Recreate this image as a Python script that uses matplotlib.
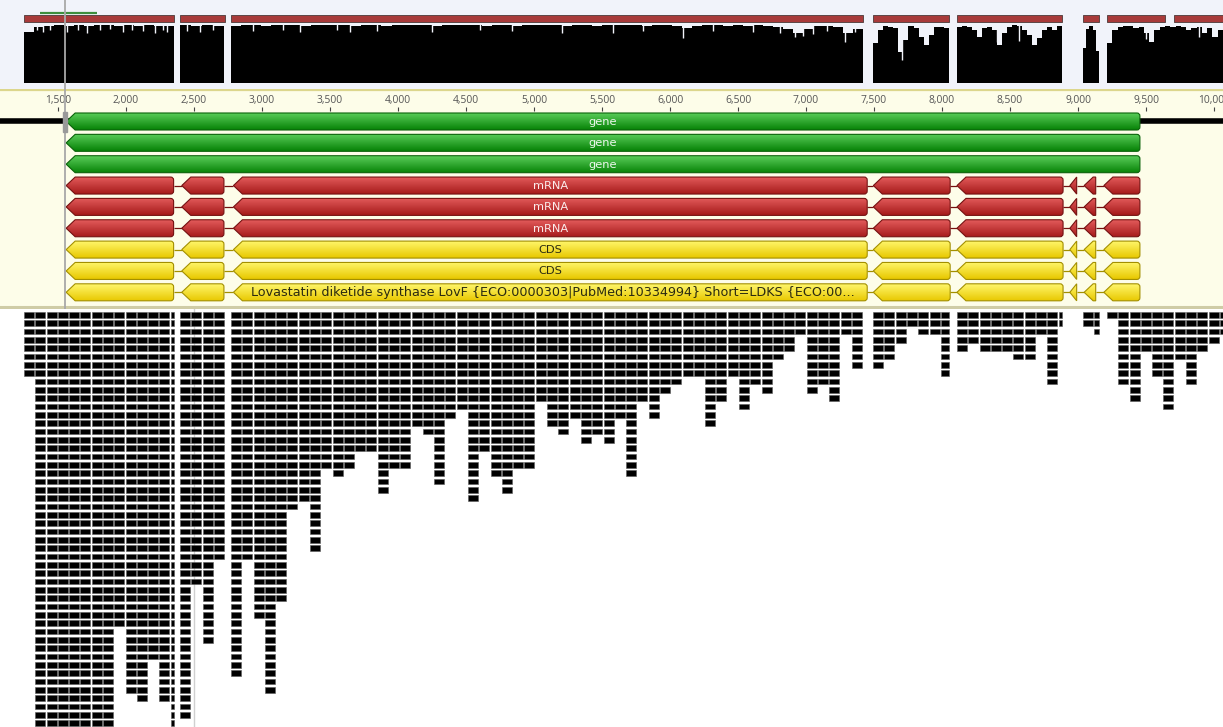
import numpy as np
import matplotlib.pyplot as plt
from matplotlib.path import Path
from matplotlib.patches import PathPatch, Rectangle
from matplotlib.colors import LinearSegmentedColormap

plt.rcParams['font.family'] = ['Open Sans', 'DejaVu Sans']

W, H = 1223, 727
PX_PER_BP = 0.136
X_LEFT, X_RIGHT = 1073.5, 10066

# ruler
ruler_ticks = list(range(1500, 10001, 500))
cursor_bp = 1551
reads_marker_bp = 2500

# annotation (minus strand, exons in bp)
gene_span = (1560, 9455)
exons = [(1560, 2350), (2410, 2720), (2790, 7450), (7495, 8060),
         (8110, 8890), (8940, 8990), (9045, 9130), (9190, 9455)]
track_kinds = ['gene', 'gene', 'gene', 'mRNA', 'mRNA', 'mRNA', 'CDS', 'CDS', 'CDS']
track_labels = ['gene', 'gene', 'gene', 'mRNA', 'mRNA', 'mRNA', 'CDS', 'CDS',
                'Lovastatin diketide synthase LovF {ECO:0000303|PubMed:10334994} '
                'Short=LDKS {ECO:00...']

# coverage, one list of relative depths per covered block
cov_blocks = [(1250, 2353), (2397, 2721), (2772, 7419), (7493, 8051),
              (8110, 8882), (9037, 9154), (9213, 10066)]
cov_values = [
    [0.86, 0.95, 0.97, 0.98, 0.97, 0.98, 0.97, 0.98, 0.98, 0.97, 0.98, 0.97, 0.98, 0.97, 0.97],
    [0.98, 0.97, 0.98, 0.97],
    [0.97, 0.98, 0.98, 0.97, 0.98, 0.98, 0.98, 0.97, 0.98, 0.98,
     0.98, 0.98, 0.97, 0.98, 0.98, 0.97, 0.98, 0.98, 0.98, 0.98,
     0.97, 0.98, 0.98, 0.98, 0.98, 0.97, 0.98, 0.98, 0.97, 0.98,
     0.98, 0.98, 0.98, 0.97, 0.98, 0.98, 0.97, 0.98, 0.98, 0.98,
     0.98, 0.97, 0.98, 0.98, 0.97, 0.93, 0.97, 0.98, 0.98, 0.97,
     0.98, 0.97, 0.98, 0.96, 0.95, 0.92, 0.84, 0.92, 0.96, 0.97,
     0.95, 0.84, 0.92],
    [0.68, 0.90, 0.97, 0.95, 0.93, 0.53, 0.73, 0.97, 0.93, 0.78, 0.64, 0.81, 0.95, 0.95, 0.93],
    [0.95, 0.96, 0.95, 0.90, 0.78, 0.93, 0.95, 0.90, 0.64, 0.85, 0.95,
     0.98, 0.96, 0.90, 0.81, 0.64, 0.76, 0.90, 0.95, 0.90, 0.96],
    [0.60, 0.92, 0.97, 0.90, 0.55],
    [0.68, 0.90, 0.95, 0.96, 0.96, 0.93, 0.95, 0.85, 0.70, 0.90, 0.95, 0.96,
     0.95, 0.96, 0.95, 0.90, 0.93, 0.95, 0.85, 0.93, 0.78, 0.90],
]
# narrow coverage drops
spike_bp = [1309, 1346, 1390, 1441, 1566, 1647, 1713, 1809, 1882, 1978, 2044, 2125, 2213, 2272, 2301,
            2449, 2544, 2640,
            2934, 3154, 3279, 3551, 3647, 3846, 4250, 4603, 4838, 5206, 5581, 5801, 6096, 6316,
            6610, 6809, 6919, 6978, 7051, 7154, 7287, 7360,
            7706, 8404, 8566, 9500, 9890]
spike_val = [0.88, 0.90, 0.86, 0.90, 0.87, 0.90, 0.84, 0.89, 0.91, 0.86, 0.90, 0.88, 0.85, 0.90, 0.87,
             0.88, 0.86, 0.90,
             0.88, 0.90, 0.86, 0.90, 0.87, 0.88, 0.86, 0.90, 0.88, 0.85, 0.84, 0.88, 0.76, 0.88,
             0.87, 0.84, 0.78, 0.80, 0.83, 0.88, 0.70, 0.86,
             0.39, 0.70, 0.72, 0.75, 0.78]
mapped_ranges = [(1250, 2353), (2397, 2728), (2772, 7419), (7493, 8051),
                 (8110, 8882), (9037, 9154), (9213, 9640), (9706, 10066)]
consensus_range = (1368, 1787)

# read stacks: depth of each column of reads inside every covered block
read_len = 73.5
read_pitch = 83
read_blocks = [(1250, 2353), (2397, 2721), (2772, 7419), (7493, 8051),
               (8110, 8882), (9037, 9154), (9213, 10066)]
read_depths = [
    [8, 50, 50, 50, 50, 50, 50, 50, 38, 46, 47, 42, 47, 50],
    [49, 33, 40, 30],
    [44, 30, 37, 46, 35, 24, 23, 29, 19, 20, 19, 17, 17, 22, 19, 19, 14, 15, 21, 13,
     12, 23, 17, 20, 22, 19, 19, 11, 14, 15, 13, 16, 15, 16, 13, 20, 11, 13, 10, 9,
     8, 8, 14, 11, 8, 12, 9, 10, 6, 5, 3, 10, 9, 11, 3, 7],
    [7, 6, 4, 2, 3, 3, 8],
    [5, 4, 5, 5, 5, 6, 6, 3, 9, 2],
    [2, 3],
    [1, 9, 11, 5, 8, 12, 6, 9, 5, 4, 3],
]

styles = {
    'gene': dict(top='#58cc58', bottom='#078207', edge='#0a620a', text='#eef8ee'),
    'mRNA': dict(top='#e25a5a', bottom='#a61b1b', edge='#741111', text='#fbecec'),
    'CDS': dict(top='#fff66a', bottom='#e8c800', edge='#a38f00', text='#2a2a10'),
}

fig = plt.figure(figsize=(W / 100, H / 100), dpi=100)


def pane(y_top, y_bot):
    ax = fig.add_axes([0, 1 - y_bot / H, 1, (y_bot - y_top) / H])
    ax.set_xlim(X_LEFT, X_RIGHT)
    ax.axis('off')
    return ax


px = 1 / PX_PER_BP  # bp per screen pixel

# ---- coverage graph ----
ax_cov = pane(0, 89)
ax_cov.set_ylim(-6 / 59, 83 / 59)
ax_cov.add_patch(Rectangle((0, 0), 1, 1, transform=ax_cov.transAxes, color='#f1f3fa', zorder=0))
for (b0, b1), vals in zip(cov_blocks, cov_values):
    edges = np.linspace(b0, b1, len(vals) + 1)
    ax_cov.stairs(vals, edges, baseline=0, fill=True, color='black', zorder=2)
ax_cov.vlines(spike_bp, spike_val, 1.0, color='#f1f3fa', lw=1.0, zorder=3)
for r0, r1 in mapped_ranges:
    ax_cov.add_patch(Rectangle((r0, 1.034), r1 - r0, 0.119, facecolor='#a83a3a',
                               edgecolor='#5c4646', lw=0.7, zorder=3))
ax_cov.hlines(1.18, *consensus_range, color='#3d8f3d', lw=1.6, zorder=3)
ax_cov.axvline(cursor_bp, color='#a8a8a8', lw=1.3, zorder=5)

# ---- ruler and annotation tracks ----
ax_trk = pane(89, 309)
ax_trk.set_ylim(309, 89)
ax_trk.add_patch(Rectangle((0, 0), 1, 1, transform=ax_trk.transAxes, color='#fdfde9', zorder=0))
ax_trk.axhline(89.8, color='#dcd68c', lw=1.6, zorder=1)
ax_trk.axhline(307, color='#cfcca6', lw=2.2, zorder=1)
for t in ruler_ticks:
    ax_trk.text(t, 101, f'{t:,}', ha='center', va='center', fontsize=7.4, color='#555555')
ax_trk.vlines(ruler_ticks, 107, 111, color='#444444', lw=0.8)

# reference line and cursor
ax_trk.hlines(121, X_LEFT, X_RIGHT, color='black', lw=4, zorder=1)
ax_trk.axvline(cursor_bp, color='#a8a8a8', lw=1.3, zorder=6)
ax_trk.add_patch(Rectangle((cursor_bp - 2 * px, 112), 4 * px, 20, color='#9a9a9a', zorder=6))

row_h = 17
tip_len = 9 * px
corner_x, corner_y = 3 * px, 3


def feature_patch(x0, x1, yc, edge):
    top, bot = yc - row_h / 2, yc + row_h / 2
    tip = min(tip_len, x1 - x0)
    verts = [(x0, yc), (x0 + tip, top)]
    codes = [Path.MOVETO, Path.LINETO]
    if x1 - (x0 + tip) > corner_x:
        verts += [(x1 - corner_x, top), (x1, top), (x1, top + corner_y),
                  (x1, bot - corner_y), (x1, bot), (x1 - corner_x, bot)]
        codes += [Path.LINETO, Path.CURVE3, Path.CURVE3, Path.LINETO, Path.CURVE3, Path.CURVE3]
    else:
        verts += [(x1, top), (x1, bot)]
        codes += [Path.LINETO, Path.LINETO]
    verts += [(x0 + tip, bot), (x0, yc)]
    codes += [Path.LINETO, Path.CLOSEPOLY]
    return PathPatch(Path(verts, codes), facecolor='none', edgecolor=edge, lw=0.8, zorder=4)


label_font = dict(family=['DejaVu Sans'], va='center', zorder=7)
grad = np.linspace(0, 1, 40).reshape(-1, 1)
for i, (kind, label) in enumerate(zip(track_kinds, track_labels)):
    st = styles[kind]
    yc = 121.5 + 21.35 * i
    cmap = LinearSegmentedColormap.from_list(kind, [st['top'], st['bottom']])
    parts = [gene_span] if kind == 'gene' else exons
    for j in range(len(parts) - 1):
        ax_trk.hlines(yc, parts[j][1], parts[j + 1][0], color=st['edge'], lw=0.9, zorder=2)
    for x0, x1 in parts:
        patch = feature_patch(x0, x1, yc, st['edge'])
        ax_trk.add_patch(patch)
        im = ax_trk.imshow(grad, cmap=cmap, aspect='auto', interpolation='bilinear',
                           extent=(x0, x1, yc + row_h / 2, yc - row_h / 2), origin='upper', zorder=3)
        im.set_clip_path(patch)
    if kind == 'gene':
        ax_trk.text(sum(gene_span) / 2, yc + 0.5, label, ha='center', fontsize=8.2,
                    color=st['text'], **label_font)
    elif len(label) < 10:
        x0, x1 = exons[2]
        ax_trk.text((x0 + x1) / 2, yc + 0.5, label, ha='center', fontsize=8.2,
                    color=st['text'], **label_font)
    else:
        ax_trk.text(exons[2][0] + tip_len + 9 * px, yc + 0.5, label, ha='left', fontsize=9.2,
                    color=st['text'], **label_font)
ax_trk.set_xlim(X_LEFT, X_RIGHT)
ax_trk.set_ylim(309, 89)

# ---- reads ----
ax_rd = pane(309, 727)
row_px = 8.33
ax_rd.set_ylim((727 - 312) / row_px, (309 - 312) / row_px)
ax_rd.axvline(reads_marker_bp, color='#d0d0d0', lw=1.0, zorder=1)
xs, ws, ys = [], [], []
for (b0, b1), depths in zip(read_blocks, read_depths):
    for i, d in enumerate(depths):
        x = b0 + i * read_pitch
        w = min(read_len, b1 - x)
        if w <= 0:
            continue
        xs += [x] * d
        ws += [w] * d
        ys += list(range(d))
ax_rd.bar(xs, 0.7, width=ws, bottom=ys, align='edge', color='black',
          edgecolor='#5a5a5a', lw=0.4, zorder=2)
ax_rd.set_xlim(X_LEFT, X_RIGHT)

fig.savefig('out.png', dpi=100)
